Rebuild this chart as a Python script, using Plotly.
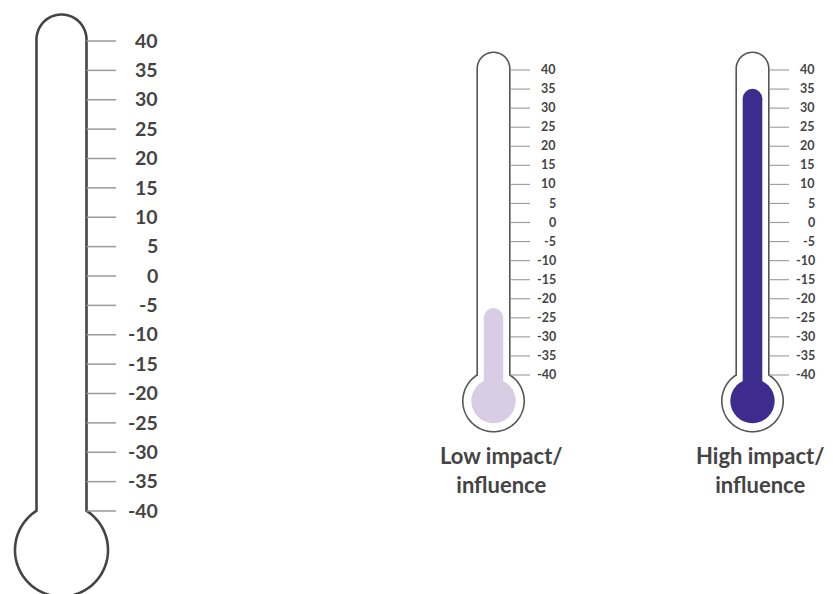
import numpy as np
import plotly.graph_objects as go

# ---------------- data ----------------
tick_values = [40, 35, 30, 25, 20, 15, 10, 5, 0, -5, -10, -15, -20, -25, -30, -35, -40]
tick_labels = [str(v) for v in tick_values]
thermo_names = ["", "Low impact/<br>influence", "High impact/<br>influence"]
thermo_values = [None, -25, 32.5]          # level of the liquid (centre of rounded top)
fill_colors = [None, "#d9cde6", "#3d2b8d"]

# ---------------- layout / geometry ----------------
W, H = 833, 594
FONT = "Lato"
TEXT = "#444444"

# pixel anchors of the 40 and -40 ticks for the two scales
BIG = dict(p40=41.0, pm40=511.0)
SMALL = dict(p40=70.0, pm40=375.0)


def scale(anchor):
    k = (anchor["pm40"] - anchor["p40"]) / 80.0
    top = 40 + anchor["p40"] / k
    bottom = -40 - (H - anchor["pm40"]) / k
    return k, [bottom, top]


k_big, rng_big = scale(BIG)
k_small, rng_small = scale(SMALL)

thermos = [
    dict(yref="y", k=k_big, a=BIG, cx=61.5, w=25, top=39.5, bulb=550, R=46.5,
         t0=86.5, t1=116, lx=160, fs=19.5, lw=2.6, lc="#444444", tw=1.5, dy=-0.8),
    dict(yref="y2", k=k_small, a=SMALL, cx=493.5, w=16.3, top=68.6, bulb=401, R=30.7,
         t0=510, t1=530, lx=557.5, fs=12.5, lw=1.6, lc="#555555", tw=1.1, dy=-0.4,
         fw=9.7, fR=22.2, name_x=501.5),
    dict(yref="y2", k=k_small, a=SMALL, cx=752.5, w=16.3, top=68.6, bulb=401, R=30.7,
         t0=769, t1=789, lx=816.5, fs=12.5, lw=1.6, lc="#555555", tw=1.1, dy=-0.4,
         fw=9.8, fR=22.2, name_x=760),
]


def to_val(py, t):
    return 40 - (py - t["a"]["p40"]) / t["k"]


def outline_path(t):
    cx, w, R = t["cx"], t["w"], t["R"]
    h = np.sqrt(R ** 2 - w ** 2)
    pts = []
    for a in np.linspace(np.pi, 0, 40):
        pts.append((cx + w * np.cos(a), t["top"] - w * np.sin(a)))
    th0 = -np.arcsin(h / R)
    for a in np.linspace(th0, np.pi - th0, 120):
        pts.append((cx + R * np.cos(a), t["bulb"] + R * np.sin(a)))
    return "M " + " L ".join(f"{x:.2f},{to_val(y, t):.4f}" for x, y in pts) + " Z"


fig = go.Figure()
shapes = []
annotations = []

for i, t in enumerate(thermos):
    yref = t["yref"]
    shapes.append(dict(type="path", path=outline_path(t), xref="x", yref=yref,
                       line=dict(color=t["lc"], width=t["lw"]), fillcolor="white", layer="below"))
    val = thermo_values[i]
    if val is not None:
        col = fill_colors[i]
        fw, fR = t["fw"], t["fR"]
        bulb_v = to_val(t["bulb"], t)
        shapes.append(dict(type="rect", xref="x", yref=yref, x0=t["cx"] - fw, x1=t["cx"] + fw,
                           y0=bulb_v, y1=val, fillcolor=col, line=dict(width=0)))
        shapes.append(dict(type="circle", xref="x", yref=yref, x0=t["cx"] - fw, x1=t["cx"] + fw,
                           y0=val - fw / t["k"], y1=val + fw / t["k"], fillcolor=col, line=dict(width=0)))
        shapes.append(dict(type="circle", xref="x", yref=yref, x0=t["cx"] - fR, x1=t["cx"] + fR,
                           y0=bulb_v - fR / t["k"], y1=bulb_v + fR / t["k"], fillcolor=col, line=dict(width=0)))
    xs, ys = [], []
    for v in tick_values:
        xs += [t["t0"], t["t1"], None]
        ys += [v, v, None]
    fig.add_trace(go.Scatter(x=xs, y=ys, mode="lines", yaxis=yref,
                             line=dict(color="#9a9a9a", width=t["tw"]),
                             hoverinfo="skip", showlegend=False))
    for v, lab in zip(tick_values, tick_labels):
        annotations.append(dict(x=t["lx"], y=v, xref="x", yref=yref, text=lab, showarrow=False,
                                xanchor="right", yanchor="middle", yshift=-t["dy"] * 1.0,
                                font=dict(family=FONT, size=t["fs"], color=TEXT, weight="bold")))
    if thermo_names[i]:
        annotations.append(dict(x=t["name_x"], y=to_val(469.5, t), xref="x", yref=yref,
                                text=thermo_names[i], showarrow=False,
                                xanchor="center", yanchor="middle",
                                font=dict(family=FONT, size=22, color=TEXT, weight="bold")))

fig.update_layout(
    width=W, height=H,
    margin=dict(l=0, r=0, t=0, b=0),
    paper_bgcolor="white", plot_bgcolor="white",
    xaxis=dict(range=[0, W], visible=False, fixedrange=True),
    yaxis=dict(range=rng_big, visible=False, fixedrange=True),
    yaxis2=dict(range=rng_small, visible=False, fixedrange=True, overlaying="y"),
    shapes=shapes,
    annotations=annotations,
    showlegend=False,
)

fig.write_html("out.html", config={"displayModeBar": False},
               post_script="document.body.style.margin='0';")
